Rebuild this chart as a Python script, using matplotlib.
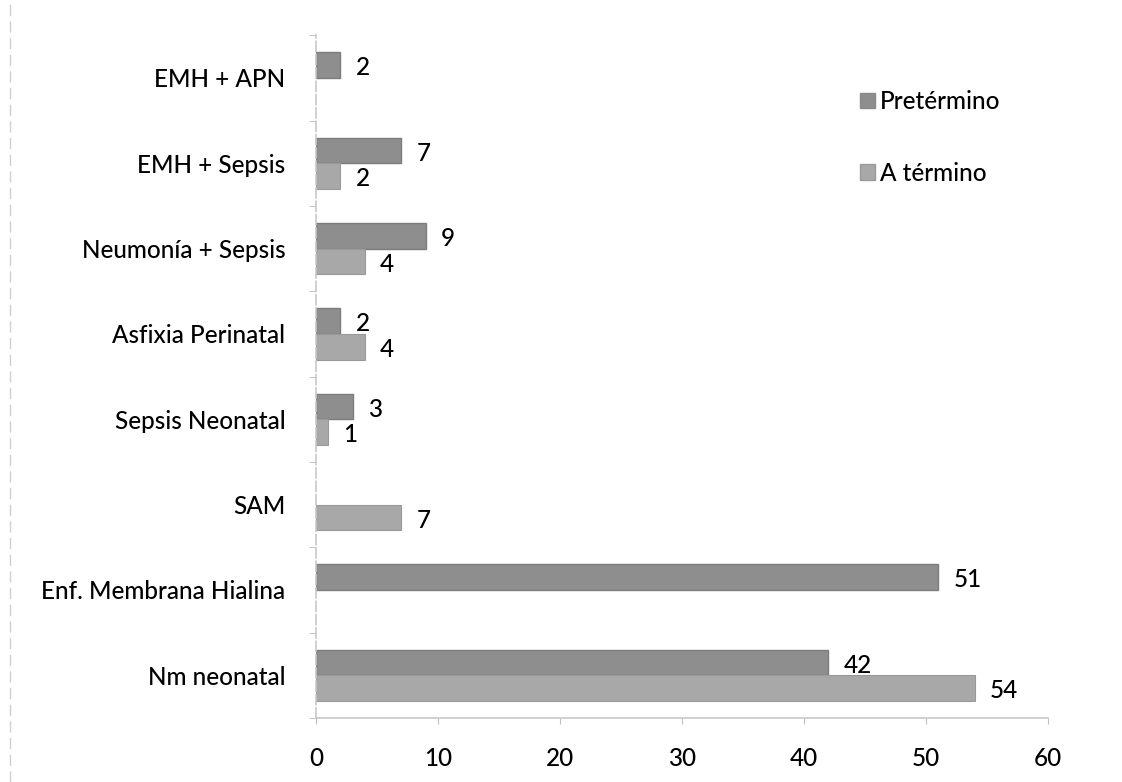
import matplotlib
matplotlib.use("Agg")
import matplotlib.pyplot as plt
import numpy as np
from matplotlib.lines import Line2D
from matplotlib.patches import Patch

plt.rcParams['font.family'] = ['Lato', 'DejaVu Sans']

# diagnoses, top to bottom
categories = ["EMH + APN", "EMH + Sepsis", "Neumonía + Sepsis", "Asfixia Perinatal",
              "Sepsis Neonatal", "SAM", "Enf. Membrana Hialina", "Nm neonatal"]
preterm = [2, 7, 9, 2, 3, np.nan, 51, 42]
at_term = [np.nan, 2, 4, 4, 1, 7, np.nan, 54]
series_names = ["Pretérmino", "A término"]
x_ticks = [0, 10, 20, 30, 40, 50, 60]

col_pre = "#8e8e8e"
col_term = "#a8a8a8"
fs = 17.5
fw = "medium"

fig = plt.figure(figsize=(11.22, 7.82), dpi=100)
ax = fig.add_axes([0.2816, 0.0818, 0.934 - 0.2816, 0.955 - 0.0818])

y = np.arange(len(categories))
h = 0.3
ax.barh(y - h / 2, preterm, height=h, color=col_pre, edgecolor="#7c7c7c", linewidth=1.0)
ax.barh(y + h / 2, at_term, height=h, color=col_term, edgecolor="#999999", linewidth=0.8)

# value labels at the end of each bar
for yy, vals in ((y - h / 2, preterm), (y + h / 2, at_term)):
    for pos, v in zip(yy, vals):
        if np.isnan(v):
            continue
        ax.annotate(f"{v:g}", (v, pos), xytext=(11, -2), textcoords="offset points",
                    ha="left", va="center", fontsize=fs, fontweight=fw, color="black")

ax.set_ylim(len(categories) - 0.5, -0.5)
ax.set_xlim(0, 60)
ax.set_xticks(x_ticks)
ax.set_yticks(y)
ax.set_yticklabels(categories, fontweight=fw)
ax.set_xticklabels([str(t) for t in x_ticks], fontweight=fw)
ax.set_yticks(np.arange(len(categories) + 1) - 0.5, minor=True)

for side in ("top", "right"):
    ax.spines[side].set_visible(False)
for side in ("left", "bottom"):
    ax.spines[side].set_color("#c8c8c8")
    ax.spines[side].set_linewidth(1.2)
ax.spines["left"].set_linestyle((0, (6, 2)))

ax.tick_params(axis="y", which="major", length=0, pad=22, labelsize=fs)
ax.tick_params(axis="y", which="minor", length=5, color="#bbbbbb", direction="out")
ax.tick_params(axis="x", length=4, color="#c0c0c0", pad=17, labelsize=fs)

handles = [Patch(facecolor=col_pre, edgecolor="#8a8a8a"),
           Patch(facecolor=col_term, edgecolor="#9a9a9a")]
fig.legend(handles, series_names, loc="upper left", bbox_to_anchor=(848 / 1122, 1 - 78 / 782),
           frameon=False, prop={"size": fs, "weight": fw}, handlelength=0.6, handleheight=0.6,
           handletextpad=0.2, labelspacing=2.0, borderpad=0)

# faint page border on the far left
fig.add_artist(Line2D([10 / 1122, 10 / 1122], [0, 1], transform=fig.transFigure,
                      color="#d0d0d0", linewidth=1.0, linestyle=(0, (8, 4))))

fig.savefig("out.png", dpi=100)
